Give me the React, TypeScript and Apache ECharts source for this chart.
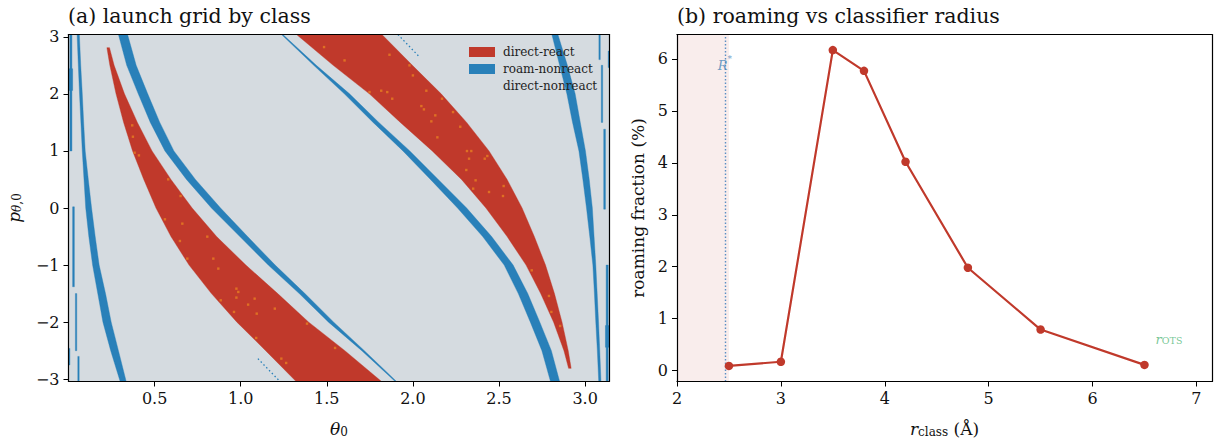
import React, { useEffect, useRef } from 'react';
import * as echarts from 'echarts';

const FONT = 'DejaVu Serif';
const RED = '#c0392b';
const BLUE = '#2980b9';
const BG = '#d5dbe0';
const ORANGE = '#e67e22';
const PI = Math.PI;

// ---------- panel (a): launch grid, band outlines [p, thetaLeft, thetaRight] ----------
const P_MIN = -3.04;
const P_MAX = 3.04;

const redBandA = [
  [2.81, 0.223, 0.238], [2.5, 0.24, 0.265], [2.0, 0.276, 0.325], [1.5, 0.32, 0.4],
  [1.0, 0.372, 0.485], [0.5, 0.437, 0.595], [0.0, 0.508, 0.718], [-0.5, 0.595, 0.86],
  [-1.0, 0.7, 1.03], [-1.5, 0.83, 1.215], [-2.0, 0.978, 1.395], [-2.5, 1.145, 1.605],
  [-3.04, 1.322, 1.818],
];
const redBandC = [
  [3.04, 1.324, 1.82], [2.5, 1.537, 1.997], [2.0, 1.747, 2.164], [1.5, 1.927, 2.312],
  [1.0, 2.112, 2.442], [0.5, 2.282, 2.547], [0.0, 2.424, 2.634], [-0.5, 2.547, 2.705],
  [-1.0, 2.657, 2.77], [-1.5, 2.742, 2.822], [-2.0, 2.817, 2.866], [-2.5, 2.877, 2.902],
  [-2.81, 2.904, 2.919],
];
const blueBandB = [
  [3.04, 0.29, 0.343], [2.5, 0.338, 0.393], [2.0, 0.405, 0.46], [1.5, 0.475, 0.53],
  [1.0, 0.56, 0.612], [0.5, 0.685, 0.737], [0.0, 0.83, 0.883], [-0.5, 0.995, 1.04],
  [-1.0, 1.16, 1.2], [-1.5, 1.34, 1.373], [-2.0, 1.51, 1.54], [-2.5, 1.703, 1.718],
  [-3.04, 1.897, 1.905],
];
const blueBandD = [
  [3.04, 1.237, 1.245], [2.5, 1.424, 1.439], [2.0, 1.602, 1.632], [1.5, 1.769, 1.802],
  [1.0, 1.942, 1.982], [0.5, 2.102, 2.147], [0.0, 2.259, 2.312], [-0.5, 2.405, 2.457],
  [-1.0, 2.53, 2.582], [-1.5, 2.612, 2.667], [-2.0, 2.682, 2.737], [-2.5, 2.749, 2.804],
  [-3.04, 2.799, 2.852],
];
const blueBandE = [
  [3.04, 0.05, 0.063], [2.5, 0.057, 0.071], [2.0, 0.064, 0.08], [1.5, 0.072, 0.088],
  [1.0, 0.08, 0.097], [0.5, 0.09, 0.115], [0.0, 0.1, 0.134], [-0.5, 0.118, 0.155],
  [-1.0, 0.14, 0.178], [-1.5, 0.17, 0.215], [-2.0, 0.2, 0.248], [-2.5, 0.245, 0.29],
  [-3.04, 0.3, 0.335],
];
const blueBandF = [
  [3.04, 2.807, 2.842], [2.5, 2.852, 2.897], [2.0, 2.894, 2.942], [1.5, 2.927, 2.972],
  [1.0, 2.964, 3.002], [0.5, 2.987, 3.024], [0.0, 3.008, 3.042], [-0.5, 3.027, 3.052],
  [-1.0, 3.045, 3.062], [-1.5, 3.054, 3.07], [-2.0, 3.062, 3.078], [-2.5, 3.071, 3.085],
  [-3.04, 3.079, 3.092],
];
// thin vertical pieces near the edges: [thetaLeft, thetaRight, pLow, pHigh]
const edgeSegments = [
  [0.008, 0.02, 1.0, 3.04], [0.004, 0.024, 2.06, 2.44], [0.024, 0.034, -1.38, 0.02],
  [0.04, 0.048, -2.5, -1.5], [0.054, 0.062, -3.04, -2.6], [0.0, 0.008, -2.75, -2.46],
  [3.122, 3.134, -3.04, -1.0], [3.118, 3.138, -2.44, -2.06], [3.108, 3.118, -0.02, 1.38],
  [3.094, 3.102, 1.5, 2.5], [3.08, 3.088, 2.6, 3.04], [3.134, 3.1416, 2.46, 2.75],
];
// sparse dotted roam-nonreact traces [theta, p]
const sparseTop = [[1.913, 3.04], [2.04, 2.64]];
const sparseBottom = [[1.1, -2.64], [1.228, -3.04]];
// isolated cells of a fourth class inside the react bands [theta, p]
const orangeCells = [
  [0.37, 1.448], [0.374, 1.249], [0.384, 0.969], [0.409, 0.922], [0.579, 0.502], [0.651, 0.21],
  [0.56, -0.198], [0.661, -0.274], [0.806, -0.502], [0.647, -0.578], [0.69, -0.887], [0.841, -0.887],
  [0.87, -1.062], [0.975, -1.413], [0.986, -1.471], [0.975, -1.57], [0.884, -1.617], [1.081, -1.588],
  [1.043, -1.693], [0.961, -1.821], [1.093, -1.851], [1.198, -1.763], [1.385, -2.026], [1.09, -2.277],
  [1.548, -2.452], [1.236, -2.639], [1.264, -2.715],
  [1.484, 2.82], [1.864, 2.685], [1.603, 2.586], [1.98, 2.499], [1.748, 2.031], [1.816, 2.055],
  [1.851, 2.031], [2.078, 2.055], [1.88, 1.915], [2.0, 2.323], [2.169, 1.915], [2.049, 1.786],
  [2.064, 1.728], [2.13, 1.623], [2.233, 1.681], [2.107, 1.518], [2.275, 1.424], [2.142, 1.238],
  [2.314, 0.998], [2.339, 0.998], [2.326, 0.864], [2.417, 0.864], [2.432, 0.911], [2.31, 0.666],
  [2.364, 0.485], [2.442, 0.28], [2.527, 0.385], [2.523, 0.21], [2.35, 0.339], [2.69, -1.092],
  [2.79, -1.541], [2.804, -1.821], [2.855, -2.067],
];
const thetaTicks = [0.5, 1.0, 1.5, 2.0, 2.5, 3.0];
const pTicks = [-3, -2, -1, 0, 1, 2, 3];
const legendNames = ['direct-react', 'roam-nonreact', 'direct-nonreact'];

// ---------- panel (b): roaming fraction vs classifier radius ----------
const rClass = [2.5, 3.0, 3.5, 3.8, 4.2, 4.8, 5.5, 6.5];
const roamingPct = [0.09, 0.17, 6.17, 5.77, 4.02, 1.98, 0.79, 0.11];
const rTicks = [2, 3, 4, 5, 6, 7];
const fracTicks = [0, 1, 2, 3, 4, 5, 6];
const R_STAR = 2.46;
const R_STAR_LABEL = [2.46, 5.92];
const EXCLUDED_MAX = 2.5;
const R_OTS_LABEL = [6.736, 0.635];

const minus = (v: number) => (v < 0 ? '\u2212' + Math.abs(v) : String(v));

const segToBand = (s: number[]) => [
  [s[3], s[0], s[1]],
  [s[2], s[0], s[1]],
];

const redBands = [redBandA, redBandC];
const blueBands = [blueBandB, blueBandD, blueBandE, blueBandF, ...edgeSegments.map(segToBand)];

const bandSeries = (name: string, bands: number[][][], color: string) => ({
  type: 'custom',
  name,
  xAxisIndex: 0,
  yAxisIndex: 0,
  clip: true,
  itemStyle: { color },
  encode: { x: 0, y: 1 },
  data: bands.map((b) => [b[0][1], b[0][0]]),
  renderItem: (params: any, api: any) => {
    const band = bands[params.dataIndex];
    const pts: number[][] = [];
    band.forEach((r) => pts.push(api.coord([r[1], r[0]])));
    for (let k = band.length - 1; k >= 0; k--) pts.push(api.coord([band[k][2], band[k][0]]));
    return {
      type: 'polygon',
      shape: { points: pts },
      style: { fill: color, stroke: color, lineWidth: 0.4 },
    };
  },
});

const tickLabel = { fontFamily: FONT, fontSize: 16, color: '#111' };
const axisLineStyle = { show: true, onZero: false, lineStyle: { color: '#000', width: 1.2 } };
const tickStyle = { show: true, length: 5, lineStyle: { color: '#000', width: 1 } };
const frameX = (gridIndex: number, min: number, max: number) => ({
  type: 'value', gridIndex, position: 'top', min, max, z: 10,
  axisLine: axisLineStyle, axisTick: { show: false }, axisLabel: { show: false }, splitLine: { show: false },
});
const frameY = (gridIndex: number, min: number, max: number) => ({
  type: 'value', gridIndex, position: 'right', min, max, z: 10,
  axisLine: axisLineStyle, axisTick: { show: false }, axisLabel: { show: false }, splitLine: { show: false },
});

const textOnly = (name: string, point: number[], formatter: string, rich: any) => ({
  type: 'scatter',
  name,
  xAxisIndex: 2,
  yAxisIndex: 2,
  symbolSize: 1,
  itemStyle: { color: 'rgba(0,0,0,0)' },
  silent: true,
  z: 6,
  data: [point],
  label: { show: true, position: 'inside', formatter, rich },
});

const option: any = {
  animation: false,
  backgroundColor: '#fff',
  textStyle: { fontFamily: FONT },
  title: [
    { text: '(a) launch grid by class', left: 68, top: 5, padding: 0,
      textStyle: { fontFamily: FONT, fontSize: 20.5, fontWeight: 'normal', color: '#111' } },
    { text: '(b) roaming vs classifier radius', left: 677, top: 5, padding: 0,
      textStyle: { fontFamily: FONT, fontSize: 20.5, fontWeight: 'normal', color: '#111' } },
  ],
  legend: {
    data: legendNames,
    orient: 'vertical',
    left: 469,
    top: 46,
    itemWidth: 26,
    itemHeight: 10,
    itemGap: 5,
    icon: 'rect',
    padding: 0,
    textStyle: { fontFamily: FONT, fontSize: 12, color: '#222', padding: [0, 0, 0, 3] },
    selectedMode: false,
  },
  grid: [
    { left: 68.5, top: 34.5, width: 541, height: 347, containLabel: false, outerBoundsMode: 'none' },
    { left: 677, top: 34.5, width: 535, height: 347, containLabel: false, outerBoundsMode: 'none' },
  ],
  xAxis: [
    {
      type: 'value', gridIndex: 0, min: 0, max: PI, z: 10,
      axisLine: axisLineStyle,
      axisTick: { ...tickStyle, customValues: thetaTicks },
      axisLabel: { ...tickLabel, margin: 9, customValues: thetaTicks, formatter: (v: number) => v.toFixed(1) },
      splitLine: { show: false },
      name: '{i|\u03b8}{s|0}', nameLocation: 'middle', nameGap: 36,
      nameTextStyle: {
        rich: {
          i: { fontFamily: FONT, fontStyle: 'italic', fontSize: 17, color: '#111', lineHeight: 20, verticalAlign: 'bottom' },
          s: { fontFamily: FONT, fontSize: 12, color: '#111', lineHeight: 14, verticalAlign: 'bottom' },
        },
      },
    },
    frameX(0, 0, PI),
    {
      type: 'value', gridIndex: 1, min: 2, max: 7.15, z: 10,
      axisLine: axisLineStyle,
      axisTick: { ...tickStyle, customValues: rTicks },
      axisLabel: { ...tickLabel, margin: 9, customValues: rTicks },
      splitLine: { show: false },
      name: '{i|r}{s|class}{n| (\u00c5)}', nameLocation: 'middle', nameGap: 36,
      nameTextStyle: {
        rich: {
          i: { fontFamily: FONT, fontStyle: 'italic', fontSize: 17, color: '#111', lineHeight: 20, verticalAlign: 'bottom' },
          s: { fontFamily: FONT, fontSize: 12, color: '#111', lineHeight: 14, verticalAlign: 'bottom' },
          n: { fontFamily: FONT, fontSize: 17, color: '#111', lineHeight: 20, verticalAlign: 'bottom' },
        },
      },
    },
    frameX(1, 2, 7.15),
  ],
  yAxis: [
    {
      type: 'value', gridIndex: 0, min: P_MIN, max: P_MAX, z: 10,
      axisLine: axisLineStyle,
      axisTick: { ...tickStyle, customValues: pTicks },
      axisLabel: { ...tickLabel, margin: 9, customValues: pTicks, formatter: minus },
      splitLine: { show: false },
      name: '{i|p}{si|\u03b8}{s|,0}', nameLocation: 'middle', nameGap: 46, nameRotate: 90,
      nameTextStyle: {
        rich: {
          i: { fontFamily: FONT, fontStyle: 'italic', fontSize: 17, color: '#111', lineHeight: 20, verticalAlign: 'bottom' },
          si: { fontFamily: FONT, fontStyle: 'italic', fontSize: 12, color: '#111', lineHeight: 14, verticalAlign: 'bottom' },
          s: { fontFamily: FONT, fontSize: 12, color: '#111', lineHeight: 14, verticalAlign: 'bottom' },
        },
      },
    },
    frameY(0, P_MIN, P_MAX),
    {
      type: 'value', gridIndex: 1, min: -0.21, max: 6.47, z: 10,
      axisLine: axisLineStyle,
      axisTick: { ...tickStyle, customValues: fracTicks },
      axisLabel: { ...tickLabel, margin: 9, customValues: fracTicks },
      splitLine: { show: false },
      name: 'roaming fraction (%)', nameLocation: 'middle', nameGap: 31, nameRotate: 90,
      nameTextStyle: { fontFamily: FONT, fontSize: 17, color: '#111' },
    },
    frameY(1, -0.21, 6.47),
  ],
  series: [
    {
      type: 'custom',
      name: 'direct-nonreact',
      xAxisIndex: 0,
      yAxisIndex: 0,
      itemStyle: { color: BG },
      encode: { x: 0, y: 1 },
      data: [[0, P_MIN]],
      renderItem: (params: any, api: any) => {
        const a = api.coord([0, P_MAX]);
        const b = api.coord([PI, P_MIN]);
        return { type: 'rect', shape: { x: a[0], y: a[1], width: b[0] - a[0], height: b[1] - a[1] }, style: { fill: BG } };
      },
    },
    bandSeries('roam-nonreact', blueBands, BLUE),
    bandSeries('direct-react', redBands, RED),
    ...[sparseTop, sparseBottom].map((d) => ({
      type: 'line',
      name: 'roam-nonreact (sparse)',
      xAxisIndex: 0,
      yAxisIndex: 0,
      data: d,
      symbol: 'none',
      lineStyle: { color: BLUE, width: 1.3, type: [1.5, 2.5] },
      silent: true,
    })),
    {
      type: 'scatter',
      name: 'isolated cells',
      xAxisIndex: 0,
      yAxisIndex: 0,
      symbol: 'rect',
      symbolSize: 2.4,
      itemStyle: { color: ORANGE, opacity: 0.8 },
      data: orangeCells,
      silent: true,
    },
    {
      type: 'line',
      name: 'roaming fraction',
      xAxisIndex: 2,
      yAxisIndex: 2,
      data: rClass.map((r, i) => [r, roamingPct[i]]),
      symbol: 'circle',
      symbolSize: 8.5,
      lineStyle: { color: RED, width: 2.2 },
      itemStyle: { color: RED },
      z: 5,
      markArea: {
        silent: true,
        itemStyle: { color: 'rgba(192,57,43,0.09)' },
        data: [[{ xAxis: 2 }, { xAxis: EXCLUDED_MAX }]],
      },
      markLine: {
        silent: true,
        symbol: ['none', 'none'],
        label: { show: false },
        lineStyle: { color: '#5b8fc4', width: 1.4, type: [1.5, 2] },
        data: [{ xAxis: R_STAR }],
      },
    },
    textOnly('R* label', R_STAR_LABEL, '{i|R}{s|*}', {
      i: { fontFamily: FONT, fontStyle: 'italic', fontSize: 13, color: '#4a86b8', lineHeight: 16, verticalAlign: 'bottom' },
      s: { fontFamily: FONT, fontSize: 9, color: '#4a86b8', lineHeight: 18, verticalAlign: 'top' },
    }),
    textOnly('r_OTS label', R_OTS_LABEL, '{i|r}{s|OTS}', {
      i: { fontFamily: FONT, fontStyle: 'italic', fontSize: 13, color: '#55b87a', lineHeight: 16, verticalAlign: 'bottom' },
      s: { fontFamily: FONT, fontSize: 9.5, color: '#55b87a', lineHeight: 12, verticalAlign: 'bottom' },
    }),
  ],
};

export default function App() {
  const ref = useRef<HTMLDivElement>(null);
  useEffect(() => {
    document.body.style.margin = '0';
    const chart = echarts.init(ref.current as HTMLDivElement, null, { renderer: 'svg' });
    chart.setOption(option);
    return () => chart.dispose();
  }, []);
  return <div ref={ref} style={{ width: 1214, height: 440 }} />;
}
